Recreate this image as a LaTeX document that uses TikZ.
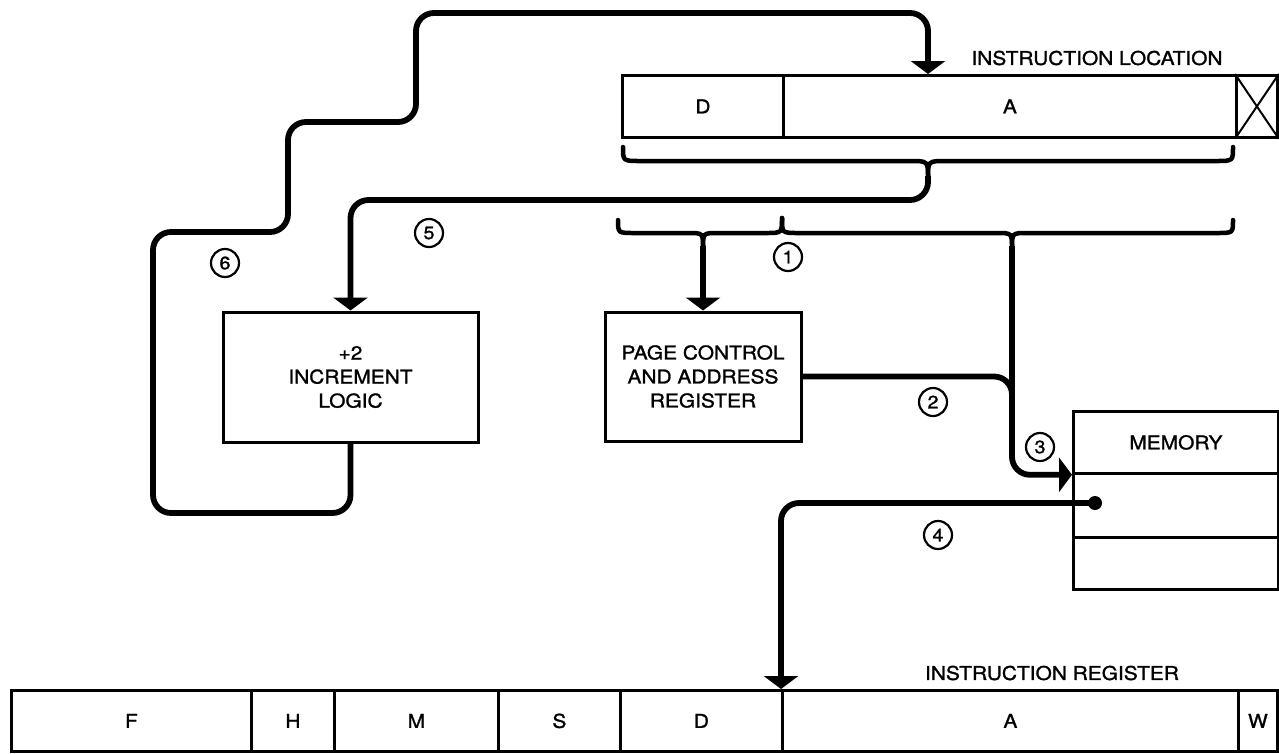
\documentclass[tikz,border=0pt]{standalone}
\usepackage{fontspec}
\setmainfont{TeX Gyre Heros}[FakeStretch=1.1,FakeBold=1.3]
\usetikzlibrary{arrows.meta}
\newcommand\labfont{\fontsize{19}{24}\selectfont}
\newcommand\numfont{\fontsize{18}{20}\selectfont}
\begin{document}
\begin{tikzpicture}[x=1pt,y=-1pt,
  heavy/.style={line width=5.8pt,line join=round},
  bracel/.style={line width=4.5pt,line cap=round},
  cell/.style={draw,line width=2.8pt,inner sep=0pt,anchor=north west,font=\labfont},
  box/.style={draw,line width=3pt,inner sep=0pt,align=center,font=\labfont},
  lab/.style={inner sep=0pt,font=\labfont},
  num/.style={draw,circle,line width=2.2pt,minimum size=28pt,inner sep=0pt,font=\numfont},
  >={Triangle[width=34pt,length=13pt]}]
\useasboundingbox (0,0) rectangle (1279,753);

% instruction location register
\node[cell,minimum width=161pt,minimum height=62pt] (ilD) at (621,74) {D};
\node[cell,minimum width=453pt,minimum height=62pt] (ilA) at (782,74) {A};
\node[cell,minimum width=41pt,minimum height=62pt] (ilX) at (1235,74) {};
\draw[line width=2pt] (ilX.north west) -- (ilX.south east) (ilX.south west) -- (ilX.north east);
\node[lab] (illab) at (1097,58) {INSTRUCTION LOCATION};

% boxes
\node[box,minimum width=255pt,minimum height=130pt] (inc) at (350.5,377) {+2\\INCREMENT\\LOGIC};
\node[box,minimum width=196pt,minimum height=129pt] (pc) at (703,376.5) {PAGE CONTROL\\AND ADDRESS\\REGISTER};

% memory
\node[cell,minimum width=205pt,minimum height=62pt] (mem1) at (1072,410) {MEMORY};
\node[cell,minimum width=205pt,minimum height=64pt] (mem2) at (1072,472) {};
\node[cell,minimum width=205pt,minimum height=52pt] (mem3) at (1072,536) {};

% instruction register
\node[cell,minimum width=240pt,minimum height=61pt] (irF) at (10,689) {F};
\node[cell,minimum width=83pt,minimum height=61pt] (irH) at (250,689) {H};
\node[cell,minimum width=164pt,minimum height=61pt] (irM) at (333,689) {M};
\node[cell,minimum width=122pt,minimum height=61pt] (irS) at (497,689) {S};
\node[cell,minimum width=162pt,minimum height=61pt] (irD) at (619,689) {D};
\node[cell,minimum width=456pt,minimum height=61pt] (irA) at (781,689) {A};
\node[cell,minimum width=39pt,minimum height=61pt] (irW) at (1237,689) {W};
\node[lab] (irlab) at (1052,673) {INSTRUCTION REGISTER};

% braces
\draw[bracel] (623,147) .. controls (623,161) .. (640,161) -- (910,161) .. controls (928,161) .. (928,178);
\draw[bracel] (1233,147) .. controls (1233,161) .. (1216,161) -- (946,161) .. controls (928,161) .. (928,178);
\coordinate (b1) at (928,176);
\draw[bracel] (618,220) .. controls (618,233) .. (634,233) -- (688,233) .. controls (703,233) .. (703,248);
\draw[bracel] (782,218) .. controls (782,233) .. (766,233) -- (718,233) .. controls (703,233) .. (703,248);
\draw[bracel] (782,218) .. controls (782,233) .. (798,233) -- (996,233) .. controls (1012,233) .. (1012,248);
\draw[bracel] (1233,220) .. controls (1233,233) .. (1217,233) -- (1028,233) .. controls (1012,233) .. (1012,248);
\coordinate (b2) at (703,246);
\coordinate (b3) at (1012,246);

% connectors
\draw[heavy,->] (b2) -- (pc.north);
\draw[heavy,rounded corners=18pt,->] (b3) -- (b3 |- mem1.south west) -- (mem1.south west);
\draw[heavy,rounded corners=18pt] (pc.east) -- (pc.east -| b3) -- ++(0,40);
\node[circle,fill,inner sep=0pt,minimum size=14pt] (dot) at (1095,503) {};
\draw[heavy,rounded corners=18pt,->] (dot.center) -- (dot.center -| irA.north west) -- (irA.north west);
\draw[heavy,rounded corners=18pt,->] (b1) -- (b1 |- 0,200) -- (inc.north |- 0,200) -- (inc.north);
\draw[heavy,rounded corners=18pt,->] (inc.south) -- (inc.south |- 0,513) -- (153,513) -- (153,232)
  -- (288,232) -- (288,122) -- (416,122) -- (416,13) -- (928,13) -- (928,0 |- ilA.north);

% numbers
\node[num] (n1) at (788,257) {1};
\node[num] (n2) at (933,402) {2};
\node[num] (n3) at (1040,447) {3};
\node[num] (n4) at (938,535) {4};
\node[num] (n5) at (429,233) {5};
\node[num] (n6) at (225,263) {6};
\end{tikzpicture}
\end{document}
